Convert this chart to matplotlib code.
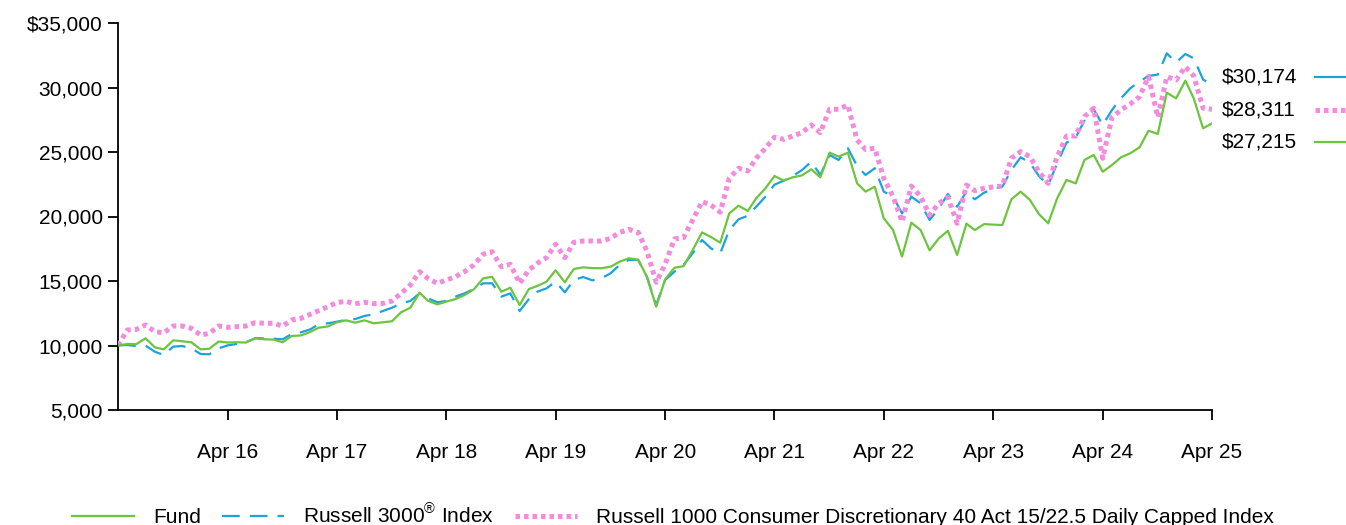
import numpy as np
import pandas as pd
import matplotlib
matplotlib.use("Agg")
import matplotlib.pyplot as plt
from matplotlib.lines import Line2D

plt.rcParams['font.family'] = ['Liberation Sans', 'DejaVu Sans']
plt.rcParams['mathtext.fontset'] = 'custom'
plt.rcParams['mathtext.rm'] = 'Liberation Sans'

# valores mensais (abr/15 a abr/25)
fund = [10000, 10120, 10100, 10560, 9860, 9700, 10400, 10330, 10250, 9700,
        9750, 10310, 10230, 10250, 10230, 10560, 10480, 10460, 10250, 10740,
        10780, 11050, 11380, 11480, 11800, 11950, 11770, 11950, 11720, 11800,
        11880, 12570, 12930, 14090, 13470, 13190, 13400, 13600, 13910, 14350,
        15200, 15330, 14170, 14480, 13140, 14380, 14610, 14950, 15830, 14900,
        15930, 16060, 16000, 15990, 16110, 16500, 16760, 16650, 15330, 13010,
        15130, 16030, 16140, 17400, 18770, 18410, 17970, 20240, 20840, 20430,
        21410, 22190, 23140, 22780, 23040, 23190, 23660, 23040, 24950, 24640,
        24950, 22570, 21930, 22310, 19860, 18950, 16890, 19520, 18950, 17380,
        18310, 18890, 17020, 19450, 18950, 19410, 19370, 19340, 21330, 21930,
        21280, 20190, 19470, 21410, 22830, 22570, 24380, 24770, 23470, 23990,
        24590, 24900, 25360, 26650, 26400, 29600, 29160, 30530, 29160, 26840,
        27215]

russell3000 = [10000, 10040, 9960, 9990, 9520, 9260, 9910, 9960, 9780, 9340,
               9320, 9780, 10010, 10120, 10250, 10560, 10560, 10530, 10480, 10890,
               11020, 11250, 11640, 11720, 11850, 11980, 12050, 12290, 12420, 12670,
               12930, 13270, 13450, 14040, 13660, 13350, 13450, 13790, 14040, 14380,
               14820, 14820, 13790, 14040, 12670, 13600, 14170, 14430, 14950, 14120,
               15080, 15310, 15050, 15210, 15600, 16240, 16630, 16630, 15330, 13140,
               15080, 15720, 16240, 17150, 18180, 17530, 17150, 18950, 19780, 20060,
               20760, 21540, 22470, 22780, 23140, 23600, 24250, 23220, 24770, 24380,
               25290, 23910, 23220, 23740, 21930, 21540, 20240, 21540, 21020, 19730,
               20640, 21740, 20760, 21930, 21330, 21850, 22140, 22310, 23600, 24590,
               24170, 23140, 22440, 24120, 25720, 26140, 27430, 28310, 27090, 28260,
               29160, 29940, 30450, 30900, 31000, 32650, 31940, 32600, 32260, 30630,
               30174]

russell1000_cd = [10000, 11200, 11250, 11590, 11070, 10990, 11510, 11510, 11330, 10810,
                  10940, 11510, 11410, 11460, 11510, 11770, 11720, 11720, 11510, 11980,
                  12110, 12420, 12700, 13010, 13340, 13420, 13230, 13350, 13240, 13260,
                  13450, 14040, 14690, 15720, 15200, 14820, 15080, 15330, 15720, 16240,
                  17070, 17270, 16110, 16290, 14820, 15850, 16370, 16810, 17850, 16810,
                  18000, 18100, 18100, 18100, 18310, 18770, 19000, 18770, 17330, 14900,
                  16300, 18260, 18360, 19730, 21150, 20890, 20330, 22960, 23740, 23530,
                  24510, 25290, 26150, 25980, 26240, 26500, 27090, 26500, 28310, 28310,
                  28640, 25930, 25200, 25290, 22960, 21540, 19600, 22360, 21540, 20120,
                  21020, 21490, 19470, 22440, 22000, 22190, 22290, 22360, 24510, 25030,
                  24640, 23470, 22570, 24640, 26240, 26240, 27740, 28390, 24510, 27690,
                  28260, 28720, 29290, 30840, 27690, 30840, 30580, 31610, 30900, 28400,
                  28311]

tick_labels = ["Apr 16", "Apr 17", "Apr 18", "Apr 19", "Apr 20",
               "Apr 21", "Apr 22", "Apr 23", "Apr 24", "Apr 25"]
end_labels = ["$30,174", "$28,311", "$27,215"]

verde = "#6DC43F"
azul = "#1BA3DE"
rosa = "#F38BDE"
fs = 15

datas = pd.date_range("2015-04-30", periods=len(fund), freq="ME")

fig = plt.figure(figsize=(13.46, 5.25), dpi=100)
ax = fig.add_axes([118/1346, 1 - 410/525, (1212 - 118)/1346, (410 - 23)/525])

ax.plot(datas, russell3000, c=azul, lw=1.6, ls=(0, (8, 4.5)), zorder=2)
ax.plot(datas, russell1000_cd, c=rosa, lw=3.6, ls=(0, (0.9, 0.8)), zorder=3)
ax.plot(datas, fund, c=verde, lw=1.6, zorder=4)

ax.set_xlim(datas[0], datas[-1])
ax.set_xticks(datas[12::12])
ax.set_xticklabels(tick_labels, fontsize=fs)

ax.set_ylim(5000, 35000)
yt = np.arange(5000, 35001, 5000)
ax.set_yticks(yt)
ylabels = [f"{v:,}" for v in yt]
ylabels[-1] = "$" + ylabels[-1]
ax.set_yticklabels(ylabels, fontsize=fs)

for s in ["top", "right"]:
    ax.spines[s].set_visible(False)
for s in ["left", "bottom"]:
    ax.spines[s].set_linewidth(1.3)
ax.tick_params(axis="both", direction="out", length=7, width=1.3)
ax.tick_params(axis="x", pad=17)
ax.tick_params(axis="y", pad=4)

# rótulos dos valores finais, à direita
estilos = [dict(c=azul, lw=1.6), dict(c=rosa, lw=3.6, ls=(0, (0.9, 0.8))), dict(c=verde, lw=1.6)]
for k, (txt, st) in enumerate(zip(end_labels, estilos)):
    yy = 1 - (77 + 32.5*k)/525
    fig.text(1222/1346, yy, txt, fontsize=fs, va="center", ha="left")
    fig.add_artist(Line2D([1315/1346, 1346/1346], [yy, yy], transform=fig.transFigure, **st))

handles = [Line2D([], [], c=verde, lw=1.6),
           Line2D([], [], c=azul, lw=1.6, ls=(0, (8, 4.5))),
           Line2D([], [], c=rosa, lw=3.6, ls=(0, (0.9, 0.8)))]
labels = ["Fund", r"Russell 3000$^{®}$ Index",
          "Russell 1000 Consumer Discretionary 40 Act 15/22.5 Daily Capped Index"]
fig.legend(handles, labels, loc="center", bbox_to_anchor=(0.5, 1 - 515/525), ncol=3,
           frameon=False, fontsize=fs, handlelength=3.0, handletextpad=0.9,
           columnspacing=1.0)

plt.savefig("out.png", dpi=100)
plt.close()
